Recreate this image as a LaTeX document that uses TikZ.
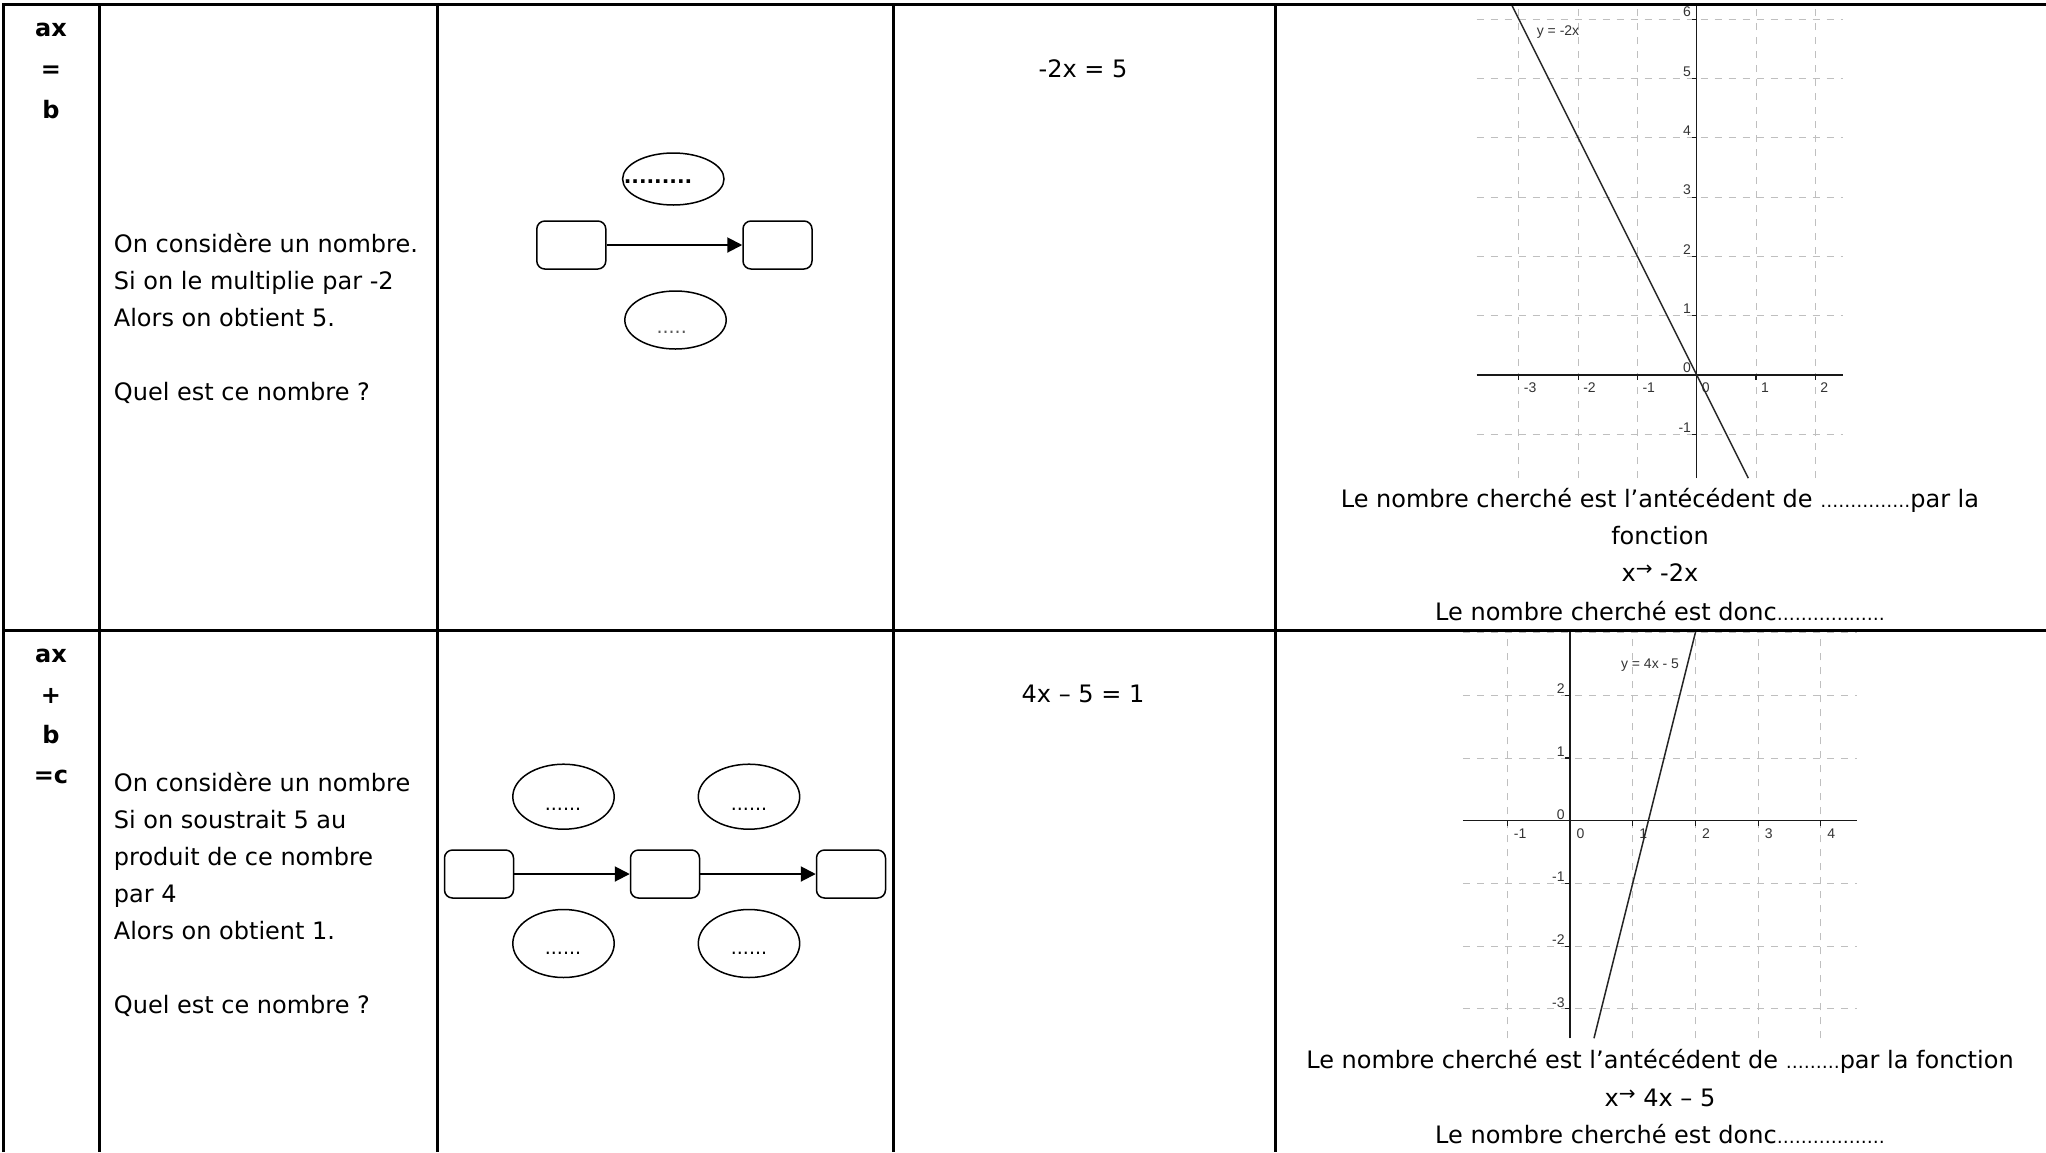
\documentclass[tikz,border=0pt]{standalone}
\usepackage{fontspec}
\setmainfont{DejaVu Sans}
\newfontfamily\graphfont{Liberation Sans}
\usetikzlibrary{shapes.geometric,arrows.meta}
\newcommand\petitpts[1]{{\fontsize{9}{9}\selectfont #1}}
\newcommand\fleche{\raisebox{0.4ex}{\fontsize{10}{10}\selectfont →}}
\begin{document}
\begin{tikzpicture}[x=0.5pt,y=-0.5pt,
  rule/.style={line width=1.5pt},
  txt/.style={anchor=base west,inner sep=0pt,font=\fontsize{12}{14}\selectfont},
  ctxt/.style={anchor=base,inner sep=0pt,font=\fontsize{12}{14}\selectfont},
  lbl/.style={anchor=base,inner sep=0pt,font=\fontsize{12}{14}\selectfont\bfseries},
  box/.style={draw,line width=0.75pt,rounded corners=4pt,minimum width=34.5pt,minimum height=24pt,inner sep=0pt},
  oval/.style={draw,ellipse,line width=0.75pt,inner sep=0pt,minimum width=50.7pt},
  flow/.style={line width=1pt,-{Triangle[length=7.5pt,width=7.5pt]}},
  dots/.style={inner sep=0pt,font=\fontsize{9.5}{10}\selectfont},
  gridl/.style={black!25,line width=0.5pt,dash pattern=on 3.5pt off 3.5pt},
  axis/.style={black!90,line width=0.6pt},
  fn/.style={black!85,line width=0.75pt},
  num/.style={inner sep=0pt,font=\graphfont\fontsize{7}{8}\selectfont,text=black!80},
]
\useasboundingbox (0,0) rectangle (2046,1152);

% ---------- graph 1 : y = -2x ----------
\begin{scope}[shift={(848.35pt,-187.5pt)},x=29.65pt,y=29.65pt]
  \foreach \i in {-3,...,2} \draw[gridl] (\i,-1.74) -- (\i,6.26);
  \foreach \j in {-1,...,6} \draw[gridl] (-3.71,\j) -- (2.46,\j);
  \draw[axis] (-3.71,0) -- (2.46,0);
  \draw[axis] (0,-1.74) -- (0,6.26);
  \foreach \i in {-3,...,2} {
    \draw[axis] (\i,0) -- (\i,-0.08);
    \node[num,anchor=west] (gax\i) at (\i+0.08,-0.22) {\i};
  }
  \foreach \j in {-1,...,6} {
    \draw[axis] (0,\j) -- (-0.08,\j);
    \node[num,anchor=east] (gay\j) at (-0.09,\j+0.12) {\j};
  }
  \draw[fn] (-3.13,6.26) -- (0.87,-1.74);
\end{scope}
\node[num] (g1lab) at (1558,32) {y = -2x};

% ---------- graph 2 : y = 4x - 5 ----------
\begin{scope}[shift={(785pt,-410.35pt)},x=31.35pt,y=31.35pt]
  \foreach \i in {-1,...,4} \draw[gridl] (\i,-3.47) -- (\i,3.04);
  \foreach \j in {-3,...,3} \draw[gridl] (-1.71,\j) -- (4.57,\j);
  \draw[axis] (-1.71,0) -- (4.57,0);
  \draw[axis] (0,-3.47) -- (0,3.04);
  \foreach \i in {-1,...,4} {
    \draw[axis] (\i,0) -- (\i,-0.08);
    \node[num,anchor=west] (gbx\i) at (\i+0.1,-0.21) {\i};
  }
  \foreach \j in {-3,...,2} {
    \draw[axis] (0,\j) -- (-0.08,\j);
    \node[num,anchor=east] (gby\j) at (-0.08,\j+0.1) {\j};
  }
  \draw[fn] (0.3825,-3.47) -- (2.01,3.04);
\end{scope}
\node[num] (g2lab) at (1650,665) {y = 4x - 5};

% ---------- table rules ----------
\draw[rule] (3,1152) -- (3,4) -- (2046,4);
\draw[rule] (3,630) -- (2046,630);
\foreach \x in {99,437,893,1275} \draw[rule] (\x,4) -- (\x,1152);

% ---------- column 1 ----------
\node[lbl] (a1) at (51,36) {ax};
\node[lbl] (a2) at (51,77) {=};
\node[lbl] (a3) at (51,118) {b};
\node[lbl] (c1) at (51,662) {ax};
\node[lbl] (c2) at (51,703) {+};
\node[lbl] (c3) at (51,743) {b};
\node[lbl] (c4) at (51,783) {=c};

% ---------- column 2 ----------
\node[txt] (p1) at (113.5,252) {On considère un nombre.};
\node[txt] (p2) at (113.5,289) {Si on le multiplie par -2};
\node[txt] (p3) at (113.5,326) {Alors on obtient 5.};
\node[txt] (p4) at (113.5,400) {Quel est ce nombre ?};
\node[txt] (q1) at (113.5,791) {On considère un nombre};
\node[txt] (q2) at (113.5,828) {Si on soustrait 5 au};
\node[txt] (q3) at (113.5,865) {produit de ce nombre};
\node[txt] (q4) at (113.5,902) {par 4};
\node[txt] (q5) at (113.5,939) {Alors on obtient 1.};
\node[txt] (q6) at (113.5,1013) {Quel est ce nombre ?};

% ---------- column 3 : diagram 1 ----------
\node[oval,minimum height=26pt] (e1) at (673.3,179) {};
\node[box] (b1) at (571.3,245) {};
\node[box] (b2) at (777.5,245) {};
\node[oval,minimum height=29pt] (e2) at (675.5,320) {};
\draw[flow] (b1) -- (b2);
\node[dots,font=\fontsize{10}{10}\selectfont\bfseries] (d1) at (658,181.7) {.........};
\node[dots,text=black!65] (d2) at (671.7,332.7) {.....};

% ---------- column 3 : diagram 2 ----------
\node[oval,minimum height=32.5pt] (f1) at (563.5,796.7) {};
\node[oval,minimum height=32.5pt] (f2) at (749,796.7) {};
\node[oval,minimum height=34pt] (f3) at (563.5,943.5) {};
\node[oval,minimum height=34pt] (f4) at (749,943.5) {};
\node[box] (k1) at (479,874) {};
\node[box] (k2) at (665,874) {};
\node[box] (k3) at (851,874) {};
\draw[flow] (k1) -- (k2);
\draw[flow] (k2) -- (k3);
\node[dots] (h1) at (563,809) {......};
\node[dots] (h2) at (749,809) {......};
\node[dots] (h3) at (563,953) {......};
\node[dots] (h4) at (749,953) {......};

% ---------- column 4 ----------
\node[ctxt] (eq1) at (1083,77) {-2x = 5};
\node[ctxt] (eq2) at (1083,702) {4x – 5 = 1};

% ---------- column 5 texts ----------
\node[ctxt] (r1) at (1660,507) {Le nombre cherché est l’antécédent de \petitpts{……………}par la};
\node[ctxt] (r2) at (1660,544) {fonction};
\node[ctxt] (r3) at (1660,581) {x\fleche{} -2x};
\node[ctxt] (r4) at (1660,620) {Le nombre cherché est donc\petitpts{………………}};
\node[ctxt] (s1) at (1660,1068) {Le nombre cherché est l’antécédent de \petitpts{………}par la fonction};
\node[ctxt] (s2) at (1660,1106) {x\fleche{} 4x – 5};
\node[ctxt] (s3) at (1660,1143) {Le nombre cherché est donc\petitpts{………………}};
\end{tikzpicture}
\end{document}
